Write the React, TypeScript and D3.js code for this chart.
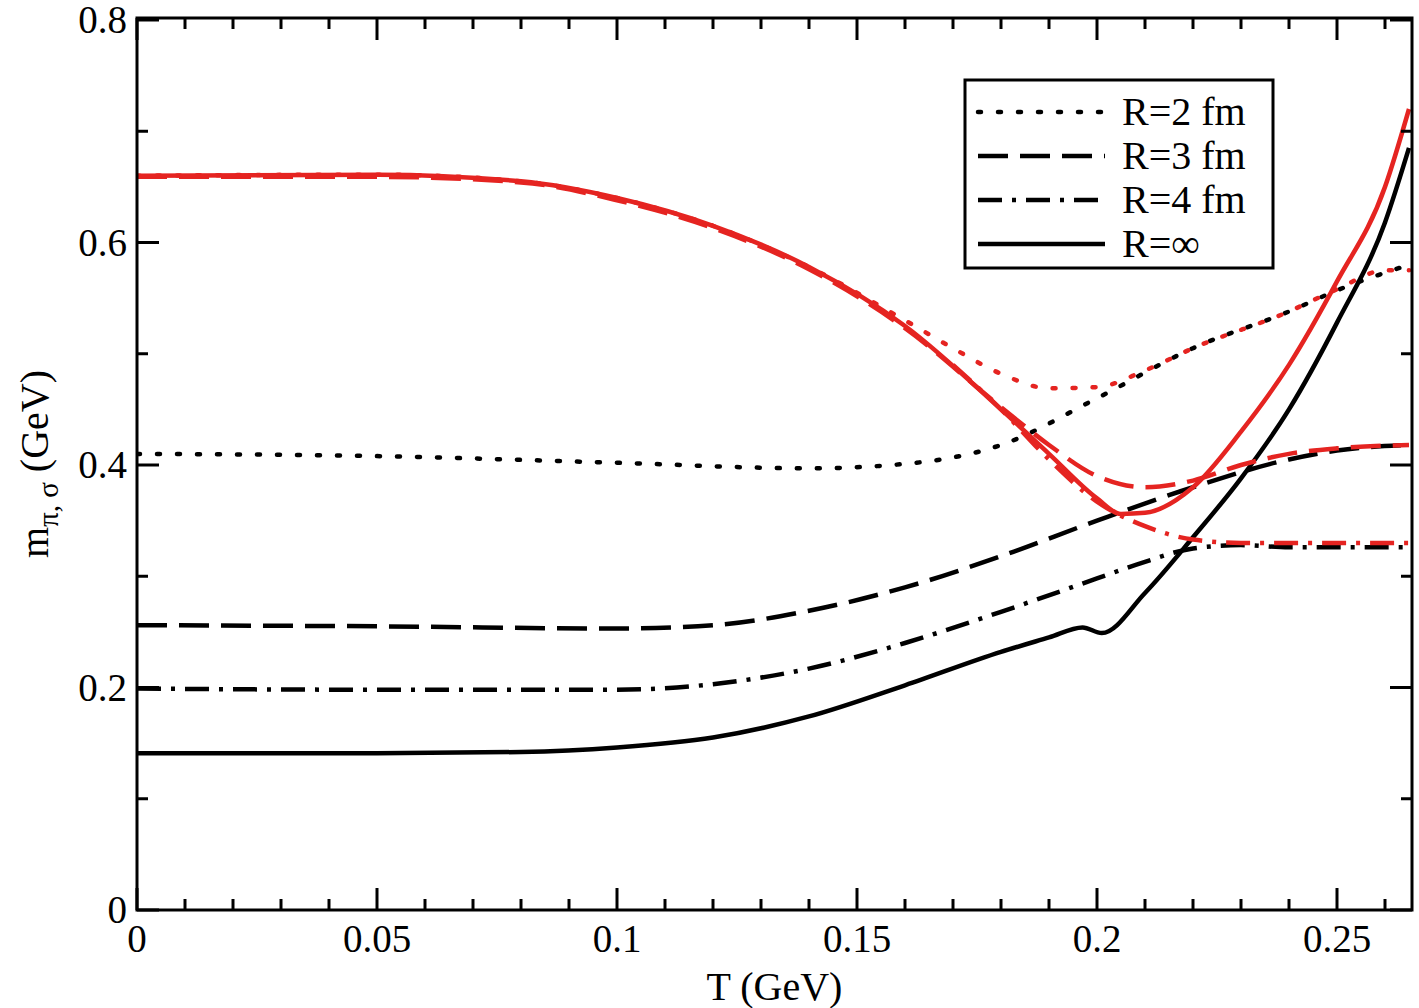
import * as React from 'react';
import * as d3 from 'd3';

type P = [number, number];

const piInf: P[] = [[0,0.141],[0.05,0.141],[0.08,0.142],[0.1,0.146],[0.12,0.155],[0.14,0.174],[0.16,0.202],[0.18,0.232],[0.19,0.245],[0.197,0.254],[0.201,0.249],[0.21,0.285],[0.22,0.335],[0.23,0.388],[0.24,0.45],[0.25,0.528],[0.26,0.618],[0.265,0.685]];
const pi4: P[] = [[0,0.199],[0.05,0.198],[0.1,0.198],[0.12,0.203],[0.14,0.217],[0.16,0.24],[0.18,0.268],[0.2,0.298],[0.21,0.313],[0.22,0.325],[0.23,0.328],[0.24,0.326],[0.265,0.326]];
const pi3: P[] = [[0,0.256],[0.05,0.255],[0.1,0.253],[0.12,0.256],[0.14,0.269],[0.16,0.29],[0.18,0.318],[0.2,0.35],[0.22,0.38],[0.24,0.405],[0.25,0.413],[0.265,0.418]];
const pi2: P[] = [[0,0.41],[0.05,0.408],[0.1,0.402],[0.14,0.397],[0.16,0.401],[0.18,0.418],[0.2,0.46],[0.22,0.505],[0.24,0.538],[0.25,0.557],[0.265,0.58]];
const sigInf: P[] = [[0,0.66],[0.05,0.661],[0.08,0.655],[0.1,0.64],[0.12,0.615],[0.14,0.578],[0.16,0.525],[0.18,0.45],[0.19,0.41],[0.2,0.37],[0.205,0.356],[0.21,0.357],[0.22,0.38],[0.23,0.43],[0.24,0.49],[0.25,0.565],[0.26,0.65],[0.265,0.72]];
const sig2: P[] = [[0,0.66],[0.05,0.661],[0.08,0.655],[0.1,0.64],[0.12,0.615],[0.14,0.578],[0.16,0.53],[0.17,0.505],[0.18,0.482],[0.19,0.469],[0.2,0.47],[0.21,0.485],[0.22,0.505],[0.24,0.538],[0.25,0.558],[0.26,0.575],[0.265,0.575]];
const sig3: P[] = [[0,0.659],[0.05,0.659],[0.08,0.654],[0.1,0.638],[0.12,0.613],[0.14,0.576],[0.16,0.523],[0.18,0.452],[0.19,0.418],[0.2,0.39],[0.21,0.38],[0.22,0.386],[0.23,0.4],[0.24,0.41],[0.25,0.415],[0.265,0.418]];
const sig4: P[] = [[0.17,0.49],[0.18,0.45],[0.19,0.405],[0.2,0.367],[0.21,0.345],[0.22,0.333],[0.23,0.33],[0.265,0.33]];

const xMajor = [0, 0.05, 0.1, 0.15, 0.2, 0.25];
const yMajor = [0, 0.2, 0.4, 0.6, 0.8];

const L = 137, R = 1412, T = 18, B = 910;
const font = 'Liberation Serif, Times New Roman, serif';

export default function App() {
  const x = d3.scaleLinear().domain([0, 0.265]).range([L, L + 0.265 / 0.05 * 240]);
  const y = d3.scaleLinear().domain([0, 0.8]).range([B, B - 0.8 * 1112.5]);
  const line = d3.line<P>().x(d => x(d[0])).y(d => y(d[1])).curve(d3.curveMonotoneX);
  const xMinor = d3.range(0, 0.2651, 0.01);
  const yMinor = d3.range(0, 0.801, 0.1);
  const styles = [
    { dash: '3,17', cap: 'round' as const },
    { dash: '30,12', cap: 'butt' as const },
    { dash: '24,10,4,10', cap: 'butt' as const },
    { dash: '', cap: 'butt' as const },
  ];
  const curves: [P[], string, number][] = [
    [pi2, '#000', 0], [pi3, '#000', 1], [pi4, '#000', 2], [piInf, '#000', 3],
    [sig2, '#e52421', 0], [sig3, '#e52421', 1], [sig4, '#e52421', 2], [sigInf, '#e52421', 3],
  ];
  const legend = ['R=2 fm', 'R=3 fm', 'R=4 fm', 'R=∞'];
  return (
    <svg width={1419} height={1008} style={{ position: 'absolute', left: 0, top: 0, background: '#fff' }} fontFamily={font}>
      <defs><clipPath id="c"><rect x={L} y={T} width={R - L} height={B - T} /></clipPath></defs>
      <g clipPath="url(#c)">
        {curves.map(([d, c, s], i) => (
          <path key={i} d={line(d) || ''} fill="none" stroke={c} strokeWidth={4.5}
            strokeDasharray={styles[s].dash} strokeLinecap={styles[s].cap} />
        ))}
      </g>
      <rect x={L} y={T} width={R - L} height={B - T} fill="none" stroke="#000" strokeWidth={3} />
      {xMinor.map((v, i) => {
        const maj = Math.abs(Math.round(v * 100) % 5) === 0;
        const len = maj ? 22 : 11;
        return <g key={i}><line x1={x(v)} x2={x(v)} y1={B} y2={B - len} stroke="#000" strokeWidth={3} />
          <line x1={x(v)} x2={x(v)} y1={T} y2={T + len} stroke="#000" strokeWidth={3} /></g>;
      })}
      {yMinor.map((v, i) => {
        const maj = Math.round(v * 10) % 2 === 0;
        const len = maj ? 22 : 11;
        return <g key={i}><line x1={L} x2={L + len} y1={y(v)} y2={y(v)} stroke="#000" strokeWidth={3} />
          <line x1={R} x2={R - len} y1={y(v)} y2={y(v)} stroke="#000" strokeWidth={3} /></g>;
      })}
      {xMajor.map(v => <text key={v} x={x(v)} y={B + 42} fontSize={39} textAnchor="middle">{v === 0 ? '0' : String(v)}</text>)}
      {yMajor.map(v => <text key={v} x={L - 10} y={y(v) + 13} fontSize={39} textAnchor="end">{v === 0 ? '0' : v.toFixed(1)}</text>)}
      <text x={(L + R) / 2} y={1000} fontSize={40} textAnchor="middle">T (GeV)</text>
      <text transform={`translate(48,${(T + B) / 2}) rotate(-90)`} fontSize={40} textAnchor="middle">
        m<tspan fontSize={29} dy={10}>π, σ</tspan><tspan dy={-10}> (GeV)</tspan>
      </text>
      <rect x={965} y={80} width={308} height={188} fill="#fff" stroke="#000" strokeWidth={3} />
      {legend.map((t, i) => (
        <g key={t}>
          <line x1={978} x2={1105} y1={112 + i * 44} y2={112 + i * 44} stroke="#000" strokeWidth={4.5}
            strokeDasharray={styles[i].dash} strokeLinecap={styles[i].cap} />
          <text x={1122} y={125 + i * 44} fontSize={40}>{t}</text>
        </g>
      ))}
    </svg>
  );
}
